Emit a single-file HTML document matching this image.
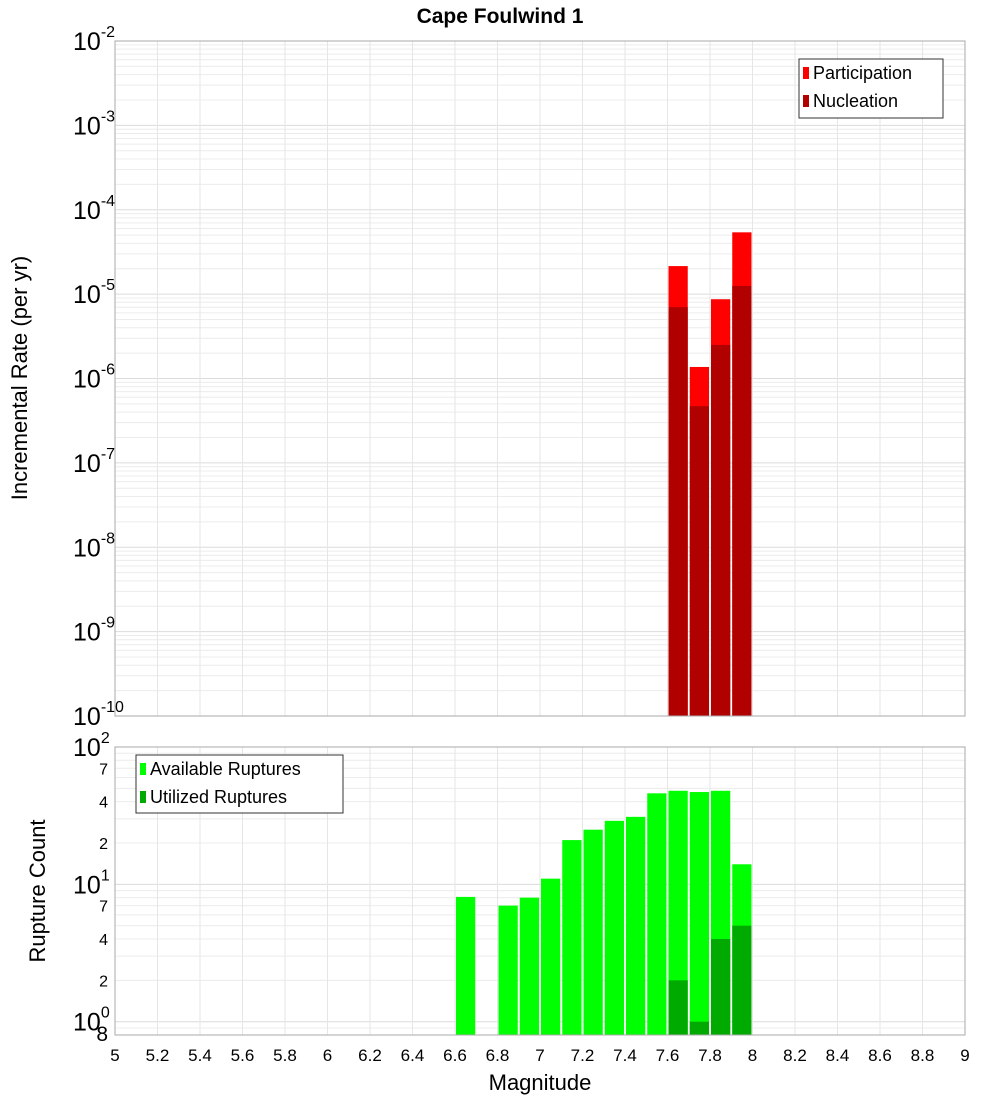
<!DOCTYPE html>
<html><head><meta charset="utf-8"><style>body{margin:0;background:#fff}svg{display:block;font-family:"Liberation Sans","DejaVu Sans",sans-serif}</style></head>
<body>
<svg id="c" width="1000" height="1100" xmlns="http://www.w3.org/2000/svg">
<text x="500" y="23" text-anchor="middle" font-size="21" font-weight="bold">Cape Foulwind 1</text>
<g id="top"></g>
<g id="bot"></g>
<text transform="translate(27,378) rotate(-90)" text-anchor="middle" font-size="22">Incremental Rate (per yr)</text>
<text transform="translate(45,891) rotate(-90)" text-anchor="middle" font-size="22">Rupture Count</text>
<text x="540" y="1090" text-anchor="middle" font-size="22">Magnitude</text>
</svg>
<script>
const binsTop=[7.6,7.7,7.8,7.9];
const participation=[2.15e-5,1.37e-6,8.7e-6,5.4e-5];
const nucleation=[7e-6,4.7e-7,2.5e-6,1.25e-5];
const binsBot=[6.6,6.8,6.9,7.0,7.1,7.2,7.3,7.4,7.5,7.6,7.7,7.8,7.9];
const available=[8.1,7,8,11,21,25,29,31,46,48,47,48,14];
const binsUtil=[7.6,7.7,7.8,7.9];
const utilized=[2,1,4,5];
const xTicks=[5,5.2,5.4,5.6,5.8,6,6.2,6.4,6.6,6.8,7,7.2,7.4,7.6,7.8,8,8.2,8.4,8.6,8.8,9];
const topDecades=[-2,-3,-4,-5,-6,-7,-8,-9,-10];
const botMinorLabels=[2,4,7,20,40,70];

const NS='http://www.w3.org/2000/svg';
const X0=115,X1=965;
const x=v=>X0+(v-5)/4*(X1-X0);
const TT=41,TB=716;
const yT=v=>TT+(-2-Math.log10(v))/8*(TB-TT);
const BT=747,BB=1035,BMIN=Math.log10(0.8);
const yB=v=>BT+(2-Math.log10(v))/(2-BMIN)*(BB-BT);
function el(p,t,a){const e=document.createElementNS(NS,t);for(const k in a)e.setAttribute(k,a[k]);p.appendChild(e);return e;}
const svg=document.getElementById('c');
const gt=document.getElementById('top'),gb=document.getElementById('bot');

function frame(g,top,bot){
  el(g,'rect',{x:X0,y:top,width:X1-X0,height:bot-top,fill:'#fff',stroke:'none'});
}
frame(gt,TT,TB);frame(gb,BT,BB);
// grids top
for(let d=-10;d<-2;d++){for(let m=1;m<10;m++){const v=m*Math.pow(10,d);const y=yT(v);
 const l=el(gt,'line',{x1:X0,x2:X1,y1:y,y2:y,stroke:m==1?'#dcdcdc':'#ececec','stroke-width':1});
 }}
for(let d=-1;d<2;d++){for(let m=1;m<10;m++){const v=m*Math.pow(10,d);if(v<0.8)continue;const y=yB(v);
 const l=el(gb,'line',{x1:X0,x2:X1,y1:y,y2:y,stroke:m==1?'#dcdcdc':'#ececec','stroke-width':1});
 }}
xTicks.forEach(t=>{[[gt,TT,TB],[gb,BT,BB]].forEach(([g,a,b])=>{const l=el(g,'line',{x1:x(t),x2:x(t),y1:a,y2:b,stroke:'#e6e6e6'});
 });
 const tx=el(svg,'text',{x:x(t),y:1061,'text-anchor':'middle','font-size':17});tx.textContent=String(t);
 });
const W=(X1-X0)/40;
function bar(g,b,v,yf,base,fill,name){const y=yf(v);const r=el(g,'rect',{x:x(b)+1,y:y,width:W-2,height:base-y,fill:fill});
 }
binsTop.forEach((b,i)=>bar(gt,b,participation[i],yT,TB,'#ff0000','participation-bar'));
binsTop.forEach((b,i)=>bar(gt,b,nucleation[i],yT,TB,'#b00000','nucleation-bar'));
binsBot.forEach((b,i)=>bar(gb,b,available[i],yB,BB,'#00ff00','available-bar'));
binsUtil.forEach((b,i)=>bar(gb,b,utilized[i],yB,BB,'#00aa00','utilized-bar'));
el(gt,'rect',{x:X0,y:TT,width:X1-X0,height:TB-TT,fill:'none',stroke:'#aaa'});
el(gb,'rect',{x:X0,y:BT,width:X1-X0,height:BB-BT,fill:'none',stroke:'#aaa'});
// top y labels
topDecades.forEach(d=>{const y=yT(Math.pow(10,d));const t=el(svg,'text',{x:73,y:y+9,'font-size':25});
 t.innerHTML='10<tspan dy="-13" font-size="16">'+d+'</tspan>';
 });
[0,1,2].forEach(d=>{const y=yB(Math.pow(10,d));const t=el(svg,'text',{x:73,y:y+9,'font-size':25});
 t.innerHTML='10<tspan dy="-13" font-size="16">'+d+'</tspan>';
 });
botMinorLabels.forEach(v=>{const y=yB(v);const t=el(svg,'text',{x:108,y:y+6,'font-size':16,'text-anchor':'end'});
 t.textContent=String(v).charAt(0);});
{const t=el(svg,'text',{x:108,y:yB(0.8)+6,'font-size':21,'text-anchor':'end'});t.textContent='8';
 }
function legend(x0,y0,w,h,items){const g=el(svg,'g',{});
 el(g,'rect',{x:x0,y:y0,width:w,height:h,fill:'#fff',stroke:'#333'});
 items.forEach(([c,lab],i)=>{const yy=y0+14+i*28;const s=el(g,'rect',{x:x0+4,y:yy-6,width:6,height:12,fill:c});
 
 const t=el(g,'text',{x:x0+14,y:yy+6,'font-size':18});t.textContent=lab;
 });}
legend(799,59,144,59,[['#ff0000','Participation'],['#b00000','Nucleation']]);
legend(136,755,207,58,[['#00ff00','Available Ruptures'],['#00aa00','Utilized Ruptures']]);
</script>
</body></html>
